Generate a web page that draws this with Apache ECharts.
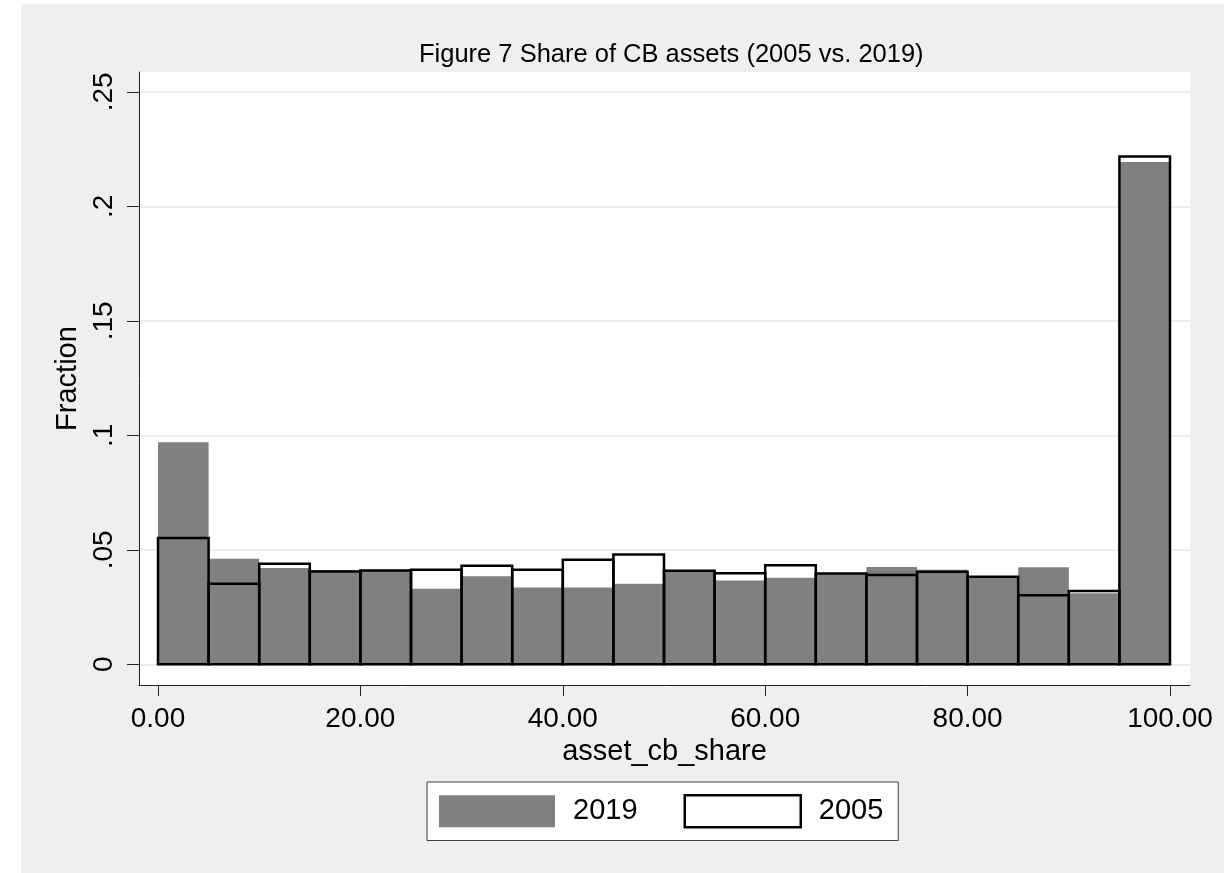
<!DOCTYPE html>
<html>
<head>
<meta charset="utf-8">
<script src="https://cdn.jsdelivr.net/npm/echarts@6/dist/echarts.min.js"></script>
<style>
  html, body { margin: 0; padding: 0; background: #ffffff; }
  #frame { position: absolute; left: 21px; top: 4px; width: 1203px; height: 869px; background: #efefef; }
  #chart { position: absolute; left: 0; top: 0; width: 1224px; height: 873px; }
</style>
</head>
<body>
<div id="frame"></div>
<div id="chart"></div>
<script>
// Histogram bins of asset_cb_share (width 5, from 0 to 100)
const binStarts = [0, 5, 10, 15, 20, 25, 30, 35, 40, 45, 50, 55, 60, 65, 70, 75, 80, 85, 90, 95];
const binWidth = 5;

// Fraction of banks per bin
const share2019 = [0.0970, 0.0461, 0.0420, 0.0412, 0.0412, 0.0330, 0.0384, 0.0335, 0.0335, 0.0352,
                   0.0410, 0.0366, 0.0378, 0.0396, 0.0425, 0.0413, 0.0380, 0.0424, 0.0310, 0.2193];
const share2005 = [0.0551, 0.0352, 0.0439, 0.0405, 0.0410, 0.0413, 0.0430, 0.0413, 0.0457, 0.0479,
                   0.0409, 0.0398, 0.0432, 0.0396, 0.0390, 0.0404, 0.0382, 0.0301, 0.0320, 0.2218];

// Axis ticks
const xTickValues = [0, 20, 40, 60, 80, 100];
const yTickValues = [0, 0.05, 0.1, 0.15, 0.2, 0.25];
const yTickLabels = ['0', '.05', '.1', '.15', '.2', '.25'];

const FONT = "'Liberation Sans', Arial, sans-serif";

function histData(values) {
  return binStarts.map((s, i) => [s, s + binWidth, values[i]]);
}

function barRenderer(style) {
  return function (params, api) {
    const x0 = api.value(0), x1 = api.value(1), v = api.value(2);
    const p0 = api.coord([x0, v]);
    const p1 = api.coord([x1, 0]);
    return {
      type: 'rect',
      shape: { x: p0[0], y: p0[1], width: p1[0] - p0[0], height: p1[1] - p0[1] },
      style: style
    };
  };
}

const chart = echarts.init(document.getElementById('chart'), null, { renderer: 'canvas' });

chart.setOption({
  backgroundColor: 'transparent',
  animation: false,
  title: {
    text: 'Figure 7 Share of CB assets (2005 vs. 2019)',
    left: 414,
    top: 37,
    textStyle: { fontFamily: FONT, fontSize: 25.5, fontWeight: 'normal', color: '#000' }
  },
  grid: {
    left: 139, top: 72, width: 1051, height: 613,
    show: true, backgroundColor: '#ffffff', borderWidth: 0
  },
  legend: {
    left: 427, top: 782,
    orient: 'horizontal',
    padding: [12, 15, 12, 12],
    itemWidth: 116, itemHeight: 32, itemGap: 46,
    backgroundColor: '#ffffff',
    borderColor: '#404040', borderWidth: 1, borderRadius: 0,
    selectedMode: false,
    textStyle: { fontFamily: FONT, fontSize: 29, color: '#000', padding: [0, 0, 0, 13] },
    data: [
      { name: '2019', icon: 'rect', itemStyle: { color: '#808080', borderWidth: 0 } },
      { name: '2005', icon: 'rect', itemStyle: { color: '#ffffff', borderColor: '#000000', borderWidth: 2.5 } }
    ]
  },
  xAxis: {
    type: 'value',
    min: -1.877, max: 101.976,
    name: 'asset_cb_share',
    nameLocation: 'middle',
    nameGap: 50,
    nameTextStyle: { fontFamily: FONT, fontSize: 29, color: '#000' },
    axisLine: { show: true, onZero: false, lineStyle: { color: '#222', width: 1 } },
    axisTick: { show: true, inside: false, length: 11, customValues: xTickValues, lineStyle: { color: '#222', width: 1 } },
    axisLabel: {
      customValues: xTickValues,
      margin: 20,
      fontFamily: FONT, fontSize: 28, color: '#000',
      formatter: v => Number(v).toFixed(2)
    },
    splitLine: { show: false }
  },
  yAxis: {
    type: 'value',
    min: -0.00904, max: 0.25865,
    name: 'Fraction',
    nameLocation: 'middle',
    nameGap: 52,
    nameTextStyle: { fontFamily: FONT, fontSize: 29, color: '#000' },
    axisLine: { show: true, onZero: false, lineStyle: { color: '#222', width: 1 } },
    axisTick: { show: true, inside: false, length: 12, customValues: yTickValues, lineStyle: { color: '#222', width: 1 } },
    axisLabel: {
      customValues: yTickValues,
      rotate: 90,
      margin: 21,
      fontFamily: FONT, fontSize: 28, color: '#000',
      formatter: v => {
        const i = yTickValues.findIndex(t => Math.abs(t - v) < 1e-9);
        return i >= 0 ? yTickLabels[i] : '';
      }
    },
    splitLine: { show: true, lineStyle: { color: '#e6e6e6', width: 1.5 } }
  },
  series: [
    {
      name: '2019',
      type: 'custom',
      renderItem: barRenderer({ fill: '#808080', stroke: null }),
      itemStyle: { color: '#808080' },
      encode: { x: [0, 1], y: 2 },
      data: histData(share2019),
      z: 2
    },
    {
      name: '2005',
      type: 'custom',
      renderItem: barRenderer({ fill: 'none', stroke: '#000000', lineWidth: 2.5 }),
      itemStyle: { color: '#ffffff', borderColor: '#000000', borderWidth: 2.5 },
      encode: { x: [0, 1], y: 2 },
      data: histData(share2005),
      z: 3
    }
  ]
});
</script>
</body>
</html>
